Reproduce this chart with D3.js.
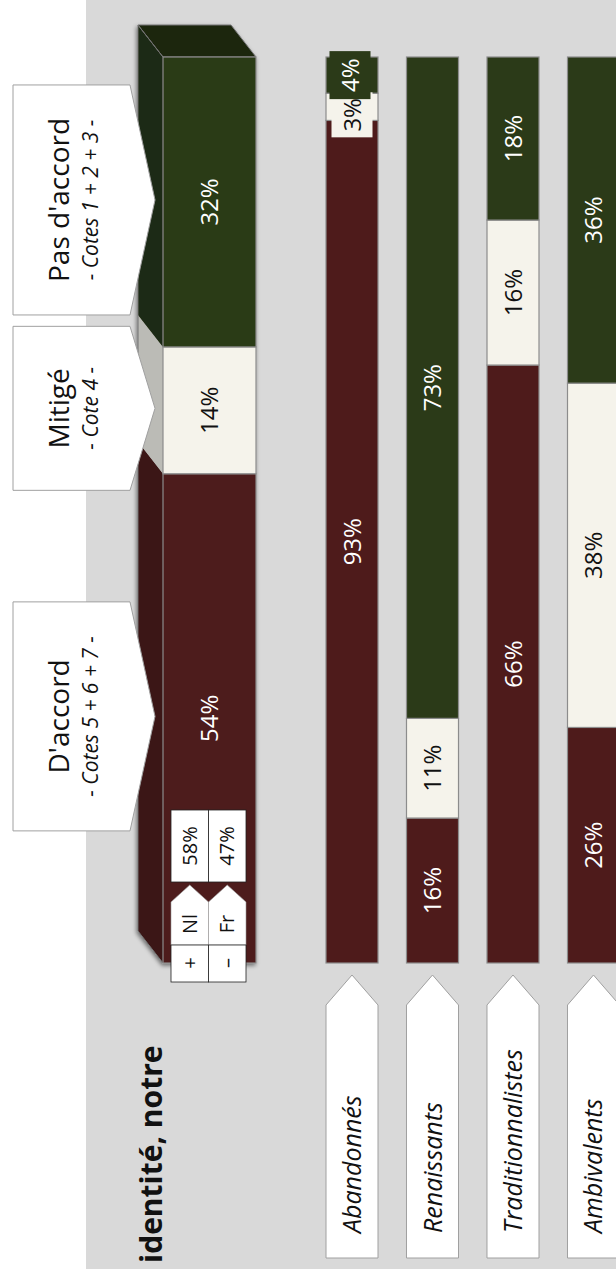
<!DOCTYPE html>
<html><head><meta charset="utf-8">
<script src="https://cdn.jsdelivr.net/npm/d3@7"></script>
<style>
html,body{margin:0;padding:0;background:#fff;}
svg{display:block;}
text{font-family:"Open Sans","Noto Sans",sans-serif;}
</style></head>
<body>
<div id="chart"></div>
<script>
// ---- data ----
const titleText = "identité, notre";
const categories = ["Abandonnés", "Renaissants", "Traditionnalistes", "Ambivalents"];
const seriesNames = ["D'accord", "Mitigé", "Pas d'accord"];
const seriesSubs = ["- Cotes 5 + 6 + 7 -", "- Cote 4 -", "- Cotes 1 + 2 + 3 -"];
const totalValues = [54, 14, 32];
const accordValues = [93, 16, 66, 26];
const mitigeValues = [3, 11, 16, 38];
const pasAccordValues = [4, 73, 18, 36];
const regions = ["Nl", "Fr"];
const regionValues = [58, 47];
const regionSigns = ["+", "–"];

// ---- layout / style ----
const W = 616, H = 1269;
const colors = ["#4E1B1B", "#F5F3EB", "#2B3A18"];
const sideColors = ["#3A1414", "#BBBBB6", "#1F2A12"];
const topColor = "#1C2510";
const textColors = ["#fff", "#111", "#fff"];
const outline = "#8C8C8C";
const depth = {dx: 25, dy: 32};
const calloutHeights = [229, 164, 230];

const svg = d3.select("#chart").append("svg").attr("width", W).attr("height", H);
const defs = svg.append("defs");
const f = defs.append("filter").attr("id", "sh").attr("x", "-20%").attr("y", "-5%").attr("width", "140%").attr("height", "110%");
f.append("feGaussianBlur").attr("in", "SourceAlpha").attr("stdDeviation", 2);
f.append("feOffset").attr("dx", -1).attr("dy", 2).attr("result", "o");
f.append("feComponentTransfer").append("feFuncA").attr("type", "linear").attr("slope", 0.5);
const fm = f.append("feMerge"); fm.append("feMergeNode"); fm.append("feMergeNode").attr("in", "SourceGraphic");

svg.append("rect").attr("x", 86).attr("y", 0).attr("width", W - 86).attr("height", H).attr("fill", "#D9D9D9");

const y = d3.scaleLinear().domain([0, 100]).range([963, 57]);
const xTot = d3.scaleBand().domain(["total"]).range([163, 256]);
const x = d3.scaleBand().domain(categories).range([326, 619.5]).paddingInner(0.354).paddingOuter(0);

function stackOf(vals) {
  let acc = 0;
  return vals.map((v, i) => { const s = {i, v, y0: acc, y1: acc + v}; acc += v; return s; });
}

// ---- 3D total bar ----
const tot = stackOf(totalValues);
const tx0 = xTot("total"), tx1 = tx0 + xTot.bandwidth();
const g3 = svg.append("g").attr("filter", "url(#sh)");
g3.selectAll("path.side").data(tot).join("path")
  .attr("d", d => {
    const a = y(d.y0), b = y(d.y1);
    return `M${tx0},${a}L${tx0},${b}L${tx0 - depth.dx},${b - depth.dy}L${tx0 - depth.dx},${a - depth.dy}Z`;
  })
  .attr("fill", d => sideColors[d.i]).attr("stroke", "none");
g3.append("path")
  .attr("d", `M${tx0},${y(100)}L${tx1},${y(100)}L${tx1 - depth.dx},${y(100) - depth.dy}L${tx0 - depth.dx},${y(100) - depth.dy}Z`)
  .attr("fill", topColor).attr("stroke", "#777").attr("stroke-width", 1);
g3.append("path")
  .attr("d", `M${tx0},${y(0)}L${tx0 - depth.dx},${y(0) - depth.dy}L${tx0 - depth.dx},${y(100) - depth.dy}M${tx0},${y(100)}L${tx0 - depth.dx},${y(100) - depth.dy}`)
  .attr("fill", "none").attr("stroke", "#707070").attr("stroke-width", 1);
g3.selectAll("rect.front").data(tot).join("rect")
  .attr("x", tx0).attr("width", xTot.bandwidth())
  .attr("y", d => y(d.y1)).attr("height", d => y(d.y0) - y(d.y1))
  .attr("fill", d => colors[d.i]).attr("stroke", outline).attr("stroke-width", 1.2);
svg.selectAll("text.tlab").data(tot).join("text")
  .attr("transform", d => `translate(${tx0 + xTot.bandwidth() / 2},${y((d.y0 + d.y1) / 2)}) rotate(-90)`)
  .attr("text-anchor", "middle").attr("dy", "0.36em")
  .attr("font-size", 24).attr("fill", d => textColors[d.i])
  .text(d => d.v + "%");

// ---- Nl / Fr table ----
const rx = d3.scaleBand().domain(regions).range([171, 246]);
const tg = svg.append("g");
regions.forEach((r, i) => {
  const a = rx(r), w = rx.bandwidth(), c = a + w / 2;
  tg.append("rect").attr("x", a).attr("y", 810).attr("width", w).attr("height", 72)
    .attr("fill", "#fff").attr("stroke", "#222").attr("stroke-width", 0.8);
  tg.append("path").attr("d", `M${a},945L${a},902L${c},885L${a + w},902L${a + w},945Z`)
    .attr("fill", "#fff").attr("stroke", "#999").attr("stroke-width", 0.6);
  tg.append("rect").attr("x", a).attr("y", 945).attr("width", w).attr("height", 37)
    .attr("fill", "#fff").attr("stroke", "#222").attr("stroke-width", 0.8);
  tg.append("text").attr("transform", `translate(${c},846) rotate(-90)`)
    .attr("text-anchor", "middle").attr("dy", "0.36em").attr("font-size", 20).attr("fill", "#111")
    .text(regionValues[i] + "%");
  tg.append("text").attr("transform", `translate(${c},924) rotate(-90)`)
    .attr("text-anchor", "middle").attr("dy", "0.36em").attr("font-size", 20).attr("fill", "#111")
    .text(r);
  tg.append("text").attr("transform", `translate(${c},963) rotate(-90)`)
    .attr("text-anchor", "middle").attr("dy", "0.36em").attr("font-size", 20).attr("fill", "#111")
    .text(regionSigns[i]);
});

// ---- small stacked bars ----
const groups = categories.map((c, k) => ({c, segs: stackOf([accordValues[k], mitigeValues[k], pasAccordValues[k]])}));
const gb = svg.append("g");
groups.forEach(gr => {
  const bx = x(gr.c), bw = x.bandwidth();
  gb.selectAll(null).data(gr.segs).join("rect")
    .attr("x", bx).attr("width", bw)
    .attr("y", d => y(d.y1)).attr("height", d => y(d.y0) - y(d.y1))
    .attr("fill", d => colors[d.i]).attr("stroke", outline).attr("stroke-width", 1.2);
});
// labels (tiny segments get a boxed label, cream first then green on top)
groups.forEach(gr => {
  const cx = x(gr.c) + x.bandwidth() / 2;
  gr.segs.forEach(d => {
    let cy = y((d.y0 + d.y1) / 2);
    let tx = cx;
    if (d.v < 6) {
      const off = d.i === 1 ? 8 : 0;
      cy = cy + off;
      const bw = 41, bh = d.i === 1 ? 45 : 48;
      tx = d.i === 1 ? cx : cx - 2;
      gb.append("rect").attr("x", tx - bw / 2).attr("y", cy - bh / 2)
        .attr("width", bw).attr("height", bh).attr("fill", colors[d.i]);
    }
    gb.append("text")
      .attr("transform", `translate(${tx},${cy}) rotate(-90)`)
      .attr("text-anchor", "middle").attr("dy", "0.36em")
      .attr("font-size", 24).attr("fill", textColors[d.i])
      .text(d.v + "%");
  });
});

// ---- category label arrows ----
const gc = svg.append("g");
categories.forEach(c => {
  const a = x(c), w = x.bandwidth(), m = a + w / 2;
  gc.append("path").attr("d", `M${a},1258L${a},1005L${m},975L${a + w},1005L${a + w},1258Z`)
    .attr("fill", "#fff").attr("stroke", "#A0A0A0").attr("stroke-width", 1);
  gc.append("text").attr("transform", `translate(${m},1233) rotate(-90)`)
    .attr("text-anchor", "start").attr("dy", "0.36em")
    .attr("font-size", 25).attr("font-style", "italic").attr("fill", "#111").text(c);
});

// ---- series callouts ----
const gl = svg.append("g");
tot.forEach((d, i) => {
  const cy = y((d.y0 + d.y1) / 2) - 2;
  const h = calloutHeights[i];
  const t = cy - h / 2, b = cy + h / 2;
  gl.append("path").attr("d", `M13,${t}L130,${t}L155,${cy}L130,${b}L13,${b}Z`)
    .attr("fill", "#fff").attr("stroke", "#A0A0A0").attr("stroke-width", 1);
  gl.append("text").attr("transform", `translate(59,${cy}) rotate(-90)`)
    .attr("text-anchor", "middle").attr("dy", "0.36em")
    .attr("font-size", 28).attr("fill", "#111").text(seriesNames[i]);
  gl.append("text").attr("transform", `translate(90,${cy}) rotate(-90)`)
    .attr("text-anchor", "middle").attr("dy", "0.36em")
    .attr("font-size", 21).attr("font-style", "italic").attr("fill", "#111").text(seriesSubs[i]);
});

// ---- title ----
svg.append("text").attr("transform", `translate(162,1263) rotate(-90)`)
  .attr("text-anchor", "start").attr("font-size", 30).attr("font-weight", "bold").attr("fill", "#111")
  .text(titleText);
</script>
</body></html>
